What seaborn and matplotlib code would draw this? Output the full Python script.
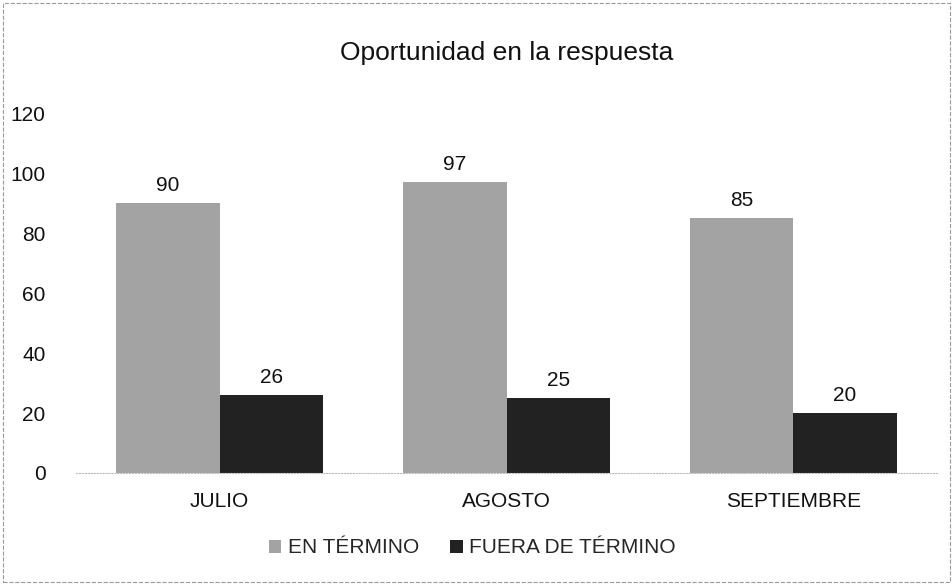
import pandas as pd
import matplotlib.pyplot as plt
import seaborn as sns
from matplotlib.patches import Rectangle

# Datos del gráfico
meses = ['JULIO', 'AGOSTO', 'SEPTIEMBRE']
en_termino = [90, 97, 85]
fuera_termino = [26, 25, 20]
series = ['EN TÉRMINO', 'FUERA DE TÉRMINO']

df = pd.DataFrame({
    'mes': meses * 2,
    'serie': [series[0]] * 3 + [series[1]] * 3,
    'valor': en_termino + fuera_termino,
})

sns.set_style('white')
plt.rcParams['font.family'] = ['Liberation Sans', 'DejaVu Sans']

fig = plt.figure(figsize=(9.53, 5.85), dpi=100)
ax = fig.add_axes([0.080, 0.1915, 0.903, 0.615])

sns.barplot(data=df, x='mes', y='valor', hue='serie', order=meses,
            hue_order=series, palette=['#a3a3a3', '#222222'],
            width=0.72, gap=0, saturation=1, linewidth=0, ax=ax)

for cont in ax.containers:
    ax.bar_label(cont, padding=6, fontsize=15, color='#111111')

ax.set_ylim(0, 120)
ax.set_yticks(range(0, 121, 20))
ax.set_xlabel('')
ax.set_ylabel('')
ax.tick_params(axis='both', labelsize=15, colors='#111111', length=0)
ax.tick_params(axis='y', pad=22)
ax.tick_params(axis='x', pad=14)
for s in ['top', 'right', 'left']:
    ax.spines[s].set_visible(False)
ax.spines['bottom'].set_color('#bbbbbb')
ax.spines['bottom'].set_linestyle(':')

ax.set_title('Oportunidad en la respuesta', fontsize=19, color='#111111', pad=38)

leg = ax.legend(loc='upper center', bbox_to_anchor=(0.46, -0.13), ncol=2,
                frameon=False, fontsize=15, handlelength=0.6, handleheight=0.6,
                handletextpad=0.3, columnspacing=1.5)

# Borde del gráfico
fig.patches.append(Rectangle((0.003, 0.005), 0.994, 0.99, transform=fig.transFigure,
                             fill=False, edgecolor='#999999', linewidth=0.8,
                             linestyle='--'))

fig.savefig('out.png', dpi=100)
